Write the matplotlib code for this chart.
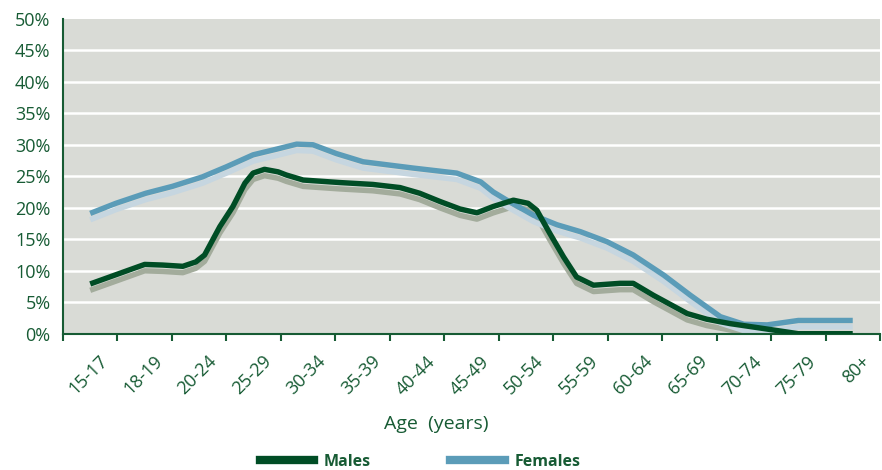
import numpy as np
import matplotlib
matplotlib.use("Agg")
import matplotlib.pyplot as plt
import matplotlib.transforms as mtransforms
from matplotlib.lines import Line2D

# age groups on the x axis
age_groups = ["15-17", "18-19", "20-24", "25-29", "30-34", "35-39", "40-44",
              "45-49", "50-54", "55-59", "60-64", "65-69", "70-74", "75-79", "80+"]

# positions (in age-group units) and values (%)
male_pos = [0.0, 1.0, 1.33, 1.70, 1.94, 2.10, 2.38, 2.62, 2.84, 2.99, 3.20, 3.45,
            3.60, 3.91, 4.58, 5.19, 5.69, 6.05, 6.42, 6.79, 7.10, 7.40, 7.77,
            8.04, 8.20, 8.44, 8.69, 8.93, 9.24, 9.73, 9.97, 10.34, 10.96,
            11.32, 11.75, 12.30, 13.0, 14.0]
male_val = [7.9, 11.0, 10.9, 10.7, 11.4, 12.5, 17.0, 20.2, 23.9, 25.5, 26.1, 25.7,
            25.2, 24.4, 24.0, 23.7, 23.2, 22.3, 21.0, 19.8, 19.2, 20.2, 21.2,
            20.7, 19.6, 15.9, 12.2, 9.0, 7.7, 8.0, 8.0, 6.1, 3.2,
            2.3, 1.6, 0.9, 0.0, 0.0]

female_pos = [0.0, 0.47, 1.02, 1.51, 2.06, 2.50, 2.99, 3.42, 3.79, 4.09, 4.52,
              5.01, 5.93, 6.73, 7.17, 7.40, 7.65, 8.14, 8.57, 9.00, 9.49, 9.97,
              10.53, 11.02, 11.57, 12.00, 12.43, 13.0, 14.0]
female_val = [19.1, 20.7, 22.3, 23.4, 24.9, 26.5, 28.4, 29.3, 30.1, 30.0, 28.6,
              27.3, 26.3, 25.5, 24.1, 22.5, 21.2, 18.8, 17.3, 16.2, 14.6, 12.5,
              9.3, 6.1, 2.7, 1.5, 1.4, 2.1, 2.1]

yticks = list(range(0, 55, 5))

GREEN = "#004d25"
BLUE = "#5b9cb8"
TEXT = "#175b34"
BG = "#d9dbd6"

plt.rcParams['font.family'] = ['Open Sans', 'DejaVu Sans']

fig = plt.figure(figsize=(8.82, 4.70), dpi=100)
ax = fig.add_axes([0.0714, 0.290, 0.9263, 0.670])
ax.set_facecolor(BG)

for y in yticks[1:-1]:
    ax.axhline(y, color="white", lw=1.8, zorder=1)

# drop shadows under the lines
shadow = mtransforms.offset_copy(ax.transData, fig=fig, x=0, y=-4.6, units='points')
ax.plot(male_pos, male_val, color="#a3ac9c", lw=3.9, transform=shadow,
        solid_joinstyle='round', solid_capstyle='butt', zorder=2)
ax.plot(female_pos, female_val, color="#c6d6e0", lw=3.9, transform=shadow,
        solid_joinstyle='round', solid_capstyle='butt', zorder=2)
ax.plot(female_pos, female_val, color=BLUE, lw=3.9,
        solid_joinstyle='round', solid_capstyle='butt', zorder=3)
ax.plot(male_pos, male_val, color=GREEN, lw=3.9,
        solid_joinstyle='round', solid_capstyle='butt', zorder=4)

ax.set_xlim(-0.5, len(age_groups) - 0.5)
ax.set_ylim(0, 50)

for s in ["top", "right"]:
    ax.spines[s].set_visible(False)
for s in ["left", "bottom"]:
    ax.spines[s].set_color(TEXT)
    ax.spines[s].set_linewidth(1.5)

ax.set_yticks(yticks)
ax.set_yticklabels([f"{v}%" for v in yticks])
ax.tick_params(axis='y', length=0, pad=9, labelsize=13, labelcolor=TEXT)

ax.set_xticks(np.arange(-0.5, len(age_groups), 1.0))
ax.set_xticklabels([])
ax.tick_params(axis='x', which='major', length=5, width=1.5, color=TEXT)
ax.set_xticks(np.arange(len(age_groups)), minor=True)
ax.set_xticklabels(age_groups, minor=True, rotation=45, ha='right', va='center',
                   rotation_mode='anchor', fontsize=13, color=TEXT)
ax.tick_params(axis='x', which='minor', length=0, pad=18)
offset = mtransforms.ScaledTranslation(15 / 100, 0, fig.dpi_scale_trans)
for lbl in ax.xaxis.get_minorticklabels():
    lbl.set_transform(lbl.get_transform() + offset)

fig.text(436 / 882, 1 - 424 / 470, "Age  (years)", ha='center', va='center',
         fontsize=14, color=TEXT)

handles = [Line2D([], [], color=GREEN, lw=6), Line2D([], [], color=BLUE, lw=6)]
leg = fig.legend(handles, ["Males", "Females"], ncol=2, loc='center',
                 bbox_to_anchor=(420 / 882, 1 - 462 / 470), frameon=False,
                 handlelength=3.4, handletextpad=0.6, columnspacing=5.0,
                 prop={'size': 11.5, 'weight': 'bold'})
for t in leg.get_texts():
    t.set_color(TEXT)

fig.savefig("out.png", dpi=100)
